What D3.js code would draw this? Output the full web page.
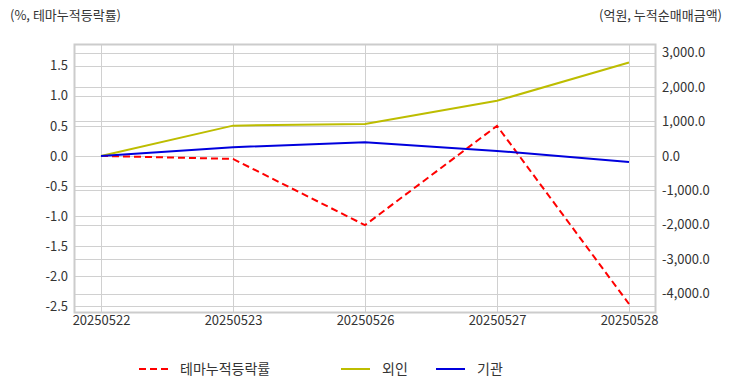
<!DOCTYPE html>
<html><head><meta charset="utf-8">
<script src="https://cdn.jsdelivr.net/npm/d3@7"></script>
<style>
html,body{margin:0;padding:0;background:#fff;}
text{font-family:"Noto Sans CJK KR","Noto Sans",sans-serif;}
</style></head>
<body><svg id="c" width="732" height="392"></svg>
<script>
const categories = ["20250522","20250523","20250526","20250527","20250528"];
const themeCum = [0, -0.05, -1.15, 0.50, -2.46];
const foreign = [0, 880, 930, 1600, 2712];
const institution = [0, 253, 398, 145, -174];
const leftTicks = [-2.5,-2.0,-1.5,-1.0,-0.5,0.0,0.5,1.0,1.5];
const rightTicks = [-4000,-3000,-2000,-1000,0,1000,2000,3000];
const seriesNames = ["테마누적등락률","외인","기관"];
const colors = {theme:"#ff0000", foreign:"#bdbd00", inst:"#0000dd"};

const svg = d3.select("#c");
const m = {left:74, right:656, top:44, bottom:313};
const loc = d3.formatLocale({decimal:".", thousands:",", grouping:[3], currency:["",""], minus:"-"});
const fL = loc.format(".1f"), fR = loc.format(",.1f");

const x = d3.scalePoint().domain(categories).range([m.left, m.right]).padding(0.2045);
const yL = d3.scaleLinear().domain([-2.61, 1.86]).range([m.bottom, m.top]);
const yR = d3.scaleLinear().domain([-4560, 3250]).range([m.bottom, m.top]);

const g = svg.append("g");
// grid
g.selectAll(".gl").data(leftTicks).join("line")
  .attr("x1", m.left).attr("x2", m.right)
  .attr("y1", d=>Math.round(yL(d))+0.5).attr("y2", d=>Math.round(yL(d))+0.5)
  .attr("stroke","#d0d0d0").attr("stroke-width",1);
g.selectAll(".gr").data(rightTicks).join("line")
  .attr("x1", m.left).attr("x2", m.right)
  .attr("y1", d=>Math.round(yR(d))+0.5).attr("y2", d=>Math.round(yR(d))+0.5)
  .attr("stroke","#d0d0d0").attr("stroke-width",1);
g.selectAll(".gx").data(categories).join("line")
  .attr("x1", d=>Math.round(x(d))+0.5).attr("x2", d=>Math.round(x(d))+0.5)
  .attr("y1", m.top).attr("y2", m.bottom)
  .attr("stroke","#d0d0d0").attr("stroke-width",1);
// border
g.append("rect").attr("x", m.left+0.5).attr("y", m.top+0.5)
  .attr("width", m.right-m.left-1).attr("height", m.bottom-m.top-1)
  .attr("fill","none").attr("stroke","#cccccc").attr("stroke-width",2);

// axes
const axL = d3.axisLeft(yL).tickValues(leftTicks).tickFormat(fL).tickSize(0).tickPadding(6);
const axR = d3.axisRight(yR).tickValues(rightTicks).tickFormat(fR).tickSize(0).tickPadding(6);
const axB = d3.axisBottom(x).tickSize(0).tickPadding(3);
function style(sel){ sel.select(".domain").remove(); sel.selectAll("text").attr("font-size",13).attr("fill","#333"); }
svg.append("g").attr("transform",`translate(${m.left},0)`).call(axL).call(style);
svg.append("g").attr("transform",`translate(${m.right},0)`).call(axR).call(style);
svg.append("g").attr("transform",`translate(0,${m.bottom})`).call(axB).call(style);

// lines
const lineL = d3.line().x((d,i)=>x(categories[i])).y(d=>yL(d));
const lineR = d3.line().x((d,i)=>x(categories[i])).y(d=>yR(d));
svg.append("path").datum(themeCum).attr("d", lineL).attr("fill","none")
  .attr("stroke", colors.theme).attr("stroke-width",2).attr("stroke-dasharray","7,4");
svg.append("path").datum(foreign).attr("d", lineR).attr("fill","none")
  .attr("stroke", colors.foreign).attr("stroke-width",2);
svg.append("path").datum(institution).attr("d", lineR).attr("fill","none")
  .attr("stroke", colors.inst).attr("stroke-width",2);

// axis titles
svg.append("text").attr("x",10).attr("y",20).attr("font-size",13).attr("fill","#333").text("(%, 테마누적등락률)");
svg.append("text").attr("x",722).attr("y",20).attr("text-anchor","end").attr("font-size",13).attr("fill","#333").text("(억원, 누적순매매금액)");

// legend
const leg = [
  {name:seriesNames[0], color:colors.theme, dash:"7,4", x:139},
  {name:seriesNames[1], color:colors.foreign, dash:null, x:341},
  {name:seriesNames[2], color:colors.inst, dash:null, x:436}
];
const lg = svg.selectAll(".leg").data(leg).join("g").attr("transform", d=>`translate(${d.x},369)`);
lg.append("line").attr("x1",0).attr("x2",29).attr("y1",0).attr("y2",0)
  .attr("stroke", d=>d.color).attr("stroke-width",2).attr("stroke-dasharray", d=>d.dash);
lg.append("text").attr("x",41).attr("y",0).attr("dy","0.35em").attr("font-size",14).attr("fill","#333").text(d=>d.name);
</script></body></html>
